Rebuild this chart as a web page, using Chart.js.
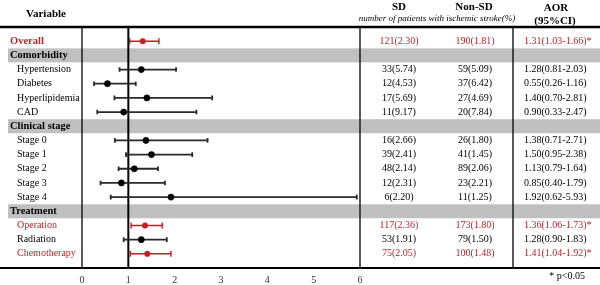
<!DOCTYPE html>
<html lang="en">
<head>
<meta charset="UTF-8">
<title>Forest plot</title>
<script src="https://cdn.jsdelivr.net/npm/chart.js@4.4.0/dist/chart.umd.min.js"></script>
<style>
  body { margin: 0; background: #fff; }
  #wrap { width: 600px; height: 285px; }
</style>
</head>
<body>
<div id="wrap"><canvas id="chart"></canvas></div>
<script>
// rows, top to bottom
const labels = ['Overall', 'Comorbidity', 'Hypertension', 'Diabetes', 'Hyperlipidemia', 'CAD',
  'Clinical stage', 'Stage 0', 'Stage 1', 'Stage 2', 'Stage 3', 'Stage 4',
  'Treatment', 'Operation', 'Radiation', 'Chemotherapy'];
const isHeader = [false, true, false, false, false, false, true, false, false, false, false, false, true, false, false, false];
const sdCounts = ['121(2.30)', '', '33(5.74)', '12(4.53)', '17(5.69)', '11(9.17)', '', '16(2.66)', '39(2.41)',
  '48(2.14)', '12(2.31)', '6(2.20)', '', '117(2.36)', '53(1.91)', '75(2.05)'];
const nonSdCounts = ['190(1.81)', '', '59(5.09)', '37(6.42)', '27(4.69)', '20(7.84)', '', '26(1.80)', '41(1.45)',
  '89(2.06)', '23(2.21)', '11(1.25)', '', '173(1.80)', '79(1.50)', '100(1.48)'];
const aor = [1.31, null, 1.28, 0.55, 1.40, 0.90, null, 1.38, 1.50, 1.13, 0.85, 1.92, null, 1.36, 1.28, 1.41];
const ciLow = [1.03, null, 0.81, 0.26, 0.70, 0.33, null, 0.71, 0.95, 0.79, 0.40, 0.62, null, 1.06, 0.90, 1.04];
const ciHigh = [1.66, null, 2.03, 1.16, 2.81, 2.47, null, 2.71, 2.38, 1.64, 1.79, 5.93, null, 1.73, 1.83, 1.92];
const significant = [true, false, false, false, false, false, false, false, false, false, false, false, false, true, false, true];
const xTicks = [0, 1, 2, 3, 4, 5, 6];

const RED = '#c41a22';
const TXT_RED = '#b8272c';
const SERIF = '"Liberation Serif", "Times New Roman", serif';

const points = [];
aor.forEach((v, i) => { if (v !== null) points.push({ x: v, y: i }); });

const forestPlugin = {
  id: 'forest',
  beforeDatasetsDraw(chart) {
    const ctx = chart.ctx, xs = chart.scales.x, ys = chart.scales.y, ca = chart.chartArea;
    ctx.save();
    // grey section bands
    ctx.fillStyle = '#c0c0c0';
    labels.forEach((l, i) => {
      if (!isHeader[i]) return;
      const y = ys.getPixelForValue(i);
      ctx.fillRect(8, y - 7, 600 - 8, 14);
    });
    // vertical frame lines
    ctx.strokeStyle = '#000';
    ctx.lineWidth = 1.3;
    [xs.getPixelForValue(0), xs.getPixelForValue(6), 513].forEach(x => {
      ctx.beginPath(); ctx.moveTo(x, ca.top); ctx.lineTo(x, ca.bottom); ctx.stroke();
    });
    ctx.lineWidth = 2;
    const x1 = xs.getPixelForValue(1);
    ctx.beginPath(); ctx.moveTo(x1, ca.top); ctx.lineTo(x1, ca.bottom); ctx.stroke();
    // top and bottom rules
    ctx.lineWidth = 2.5;
    ctx.beginPath(); ctx.moveTo(0, ca.top); ctx.lineTo(600, ca.top); ctx.stroke();
    ctx.lineWidth = 2;
    ctx.beginPath(); ctx.moveTo(0, ca.bottom); ctx.lineTo(600, ca.bottom); ctx.stroke();
    // error bars
    aor.forEach((v, i) => {
      if (v === null) return;
      const y = ys.getPixelForValue(i);
      const a = xs.getPixelForValue(ciLow[i]);
      const b = xs.getPixelForValue(Math.min(ciHigh[i], 6));
      const h = significant[i] ? 3 : 2.3;
      ctx.strokeStyle = significant[i] ? RED : '#2a2a2a';
      ctx.lineWidth = significant[i] ? 1.4 : 1.8;
      ctx.beginPath();
      ctx.moveTo(a, y); ctx.lineTo(b, y);
      ctx.moveTo(a, y - h); ctx.lineTo(a, y + h);
      ctx.moveTo(b, y - h); ctx.lineTo(b, y + h);
      ctx.stroke();
    });
    ctx.restore();
  },
  afterDraw(chart) {
    const ctx = chart.ctx, xs = chart.scales.x, ys = chart.scales.y;
    ctx.save();
    ctx.textBaseline = 'middle';
    // column headers
    ctx.fillStyle = '#000';
    ctx.font = 'bold 11px ' + SERIF;
    ctx.textAlign = 'center';
    ctx.fillText('Variable', 46, 14);
    ctx.fillText('SD', 399, 7);
    ctx.fillText('Non-SD', 474, 7);
    ctx.fillText('AOR', 556, 8);
    ctx.fillText('(95%CI)', 555, 21);
    ctx.font = 'italic 9px ' + SERIF;
    ctx.fillText('number of patients with ischemic stroke(%)', 437, 19);
    // rows
    labels.forEach((l, i) => {
      const y = ys.getPixelForValue(i);
      ctx.fillStyle = significant[i] ? TXT_RED : '#000';
      ctx.textAlign = 'left';
      if (isHeader[i] || i === 0) {
        ctx.font = 'bold 10.5px ' + SERIF;
        ctx.fillText(l, 10, y);
      } else {
        ctx.font = '10px ' + SERIF;
        ctx.fillText(l, 17, y);
      }
      if (aor[i] === null) return;
      ctx.font = '10px ' + SERIF;
      ctx.textAlign = 'center';
      ctx.fillText(sdCounts[i], 399, y);
      ctx.fillText(nonSdCounts[i], 475, y);
      ctx.textAlign = 'left';
      const txt = aor[i].toFixed(2) + '(' + ciLow[i].toFixed(2) + '-' + ciHigh[i].toFixed(2) + ')' + (significant[i] ? '*' : '');
      ctx.fillText(txt, 524, y);
    });
    // x tick labels
    ctx.fillStyle = '#333';
    ctx.font = '10px ' + SERIF;
    ctx.textAlign = 'center';
    xTicks.forEach(t => ctx.fillText(String(t), xs.getPixelForValue(t), 280));
    ctx.fillStyle = '#000';
    ctx.textAlign = 'right';
    ctx.fillText('* p<0.05', 585, 276);
    ctx.restore();
  }
};

new Chart(document.getElementById('chart'), {
  type: 'scatter',
  data: {
    datasets: [{
      data: points,
      pointRadius: points.map(p => significant[p.y] ? 2.8 : 3.1),
      pointBackgroundColor: points.map(p => significant[p.y] ? RED : '#000'),
      pointBorderColor: points.map(p => significant[p.y] ? RED : '#000'),
      pointBorderWidth: 0.5
    }]
  },
  options: {
    responsive: true,
    maintainAspectRatio: false,
    animation: false,
    layout: { padding: { left: 82, right: 240, top: 27, bottom: 17 } },
    plugins: { legend: { display: false }, tooltip: { enabled: false } },
    scales: {
      x: { type: 'linear', min: 0, max: 6, display: false },
      y: { type: 'linear', min: -1, max: 16, reverse: true, display: false }
    }
  },
  plugins: [forestPlugin]
});
</script>
</body>
</html>
